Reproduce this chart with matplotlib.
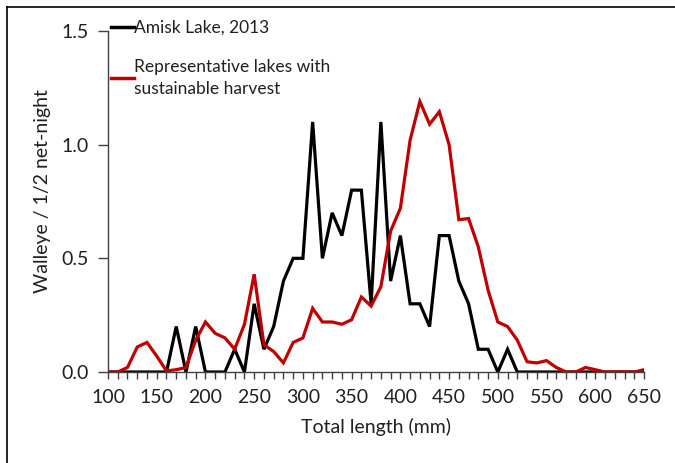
import matplotlib.pyplot as plt
import numpy as np
from matplotlib.lines import Line2D

plt.rcParams['font.family'] = ['Lato', 'DejaVu Sans']

# total length classes (mm), 10 mm bins
length = np.arange(100, 660, 10)

amisk = [0, 0, 0, 0, 0, 0, 0, 0.2, 0, 0.2, 0, 0, 0, 0.1, 0, 0.3, 0.1, 0.2, 0.4, 0.5,
         0.5, 1.1, 0.5, 0.7, 0.6, 0.8, 0.8, 0.3, 1.1, 0.4, 0.6, 0.3, 0.3, 0.2, 0.6, 0.6,
         0.4, 0.3, 0.1, 0.1, 0, 0.1, 0, 0, 0, 0, 0, 0, 0, 0, 0, 0, 0, 0, 0, 0]

representative = [0, 0, 0.02, 0.11, 0.13, 0.07, 0.005, 0.01, 0.02, 0.14, 0.22, 0.17, 0.15,
                  0.10, 0.21, 0.43, 0.12, 0.09, 0.04, 0.13, 0.15, 0.28, 0.22, 0.22, 0.21,
                  0.23, 0.33, 0.29, 0.375, 0.62, 0.72, 1.02, 1.19, 1.09, 1.145, 1.0, 0.67,
                  0.675, 0.55, 0.36, 0.22, 0.20, 0.14, 0.045, 0.04, 0.05, 0.02, 0.0, 0.0,
                  0.02, 0.01, 0, 0, 0, 0, 0.01]

labels = ['Amisk Lake, 2013', 'Representative lakes with\nsustainable harvest']

fig = plt.figure(figsize=(6.75, 4.63), dpi=100)
ax = fig.add_axes([108 / 675, 1 - 372 / 463, (644 - 108) / 675, (372 - 31) / 463])

ax.plot(length, amisk, color='black', lw=2.3, solid_joinstyle='miter')
ax.plot(length, representative, color='#C00000', lw=2.3, solid_joinstyle='miter')

ax.set_xlim(100, 650)
ax.set_ylim(0, 1.5)
ax.set_xticks(np.arange(100, 651, 50))
ax.set_xticks(np.arange(100, 651, 10), minor=True)
ax.set_yticks([0, 0.5, 1.0, 1.5])
ax.set_yticklabels(['0.0', '0.5', '1.0', '1.5'])
ax.tick_params(axis='both', direction='out', length=5, width=1, labelsize=14, colors='#404040',
               labelcolor='#202020')
ax.tick_params(axis='x', which='minor', direction='out', length=5, width=1, color='#404040')
ax.tick_params(axis='x', pad=7)
ax.tick_params(axis='y', pad=7, length=7)
for s in ['top', 'right']:
    ax.spines[s].set_visible(False)
for s in ['left', 'bottom']:
    ax.spines[s].set_color('#404040')
    ax.spines[s].set_linewidth(1)

ax.set_xlabel('Total length (mm)', fontsize=14, color='#202020', labelpad=9)
ax.set_ylabel('Walleye / 1/2 net-night', fontsize=14, color='#202020')
ax.yaxis.set_label_coords(-0.106, 0.53)

handles = [Line2D([], [], color='black', lw=2.5), Line2D([], [], color='#C00000', lw=2.5)]
leg = fig.legend(handles, labels, loc='upper left', bbox_to_anchor=(104 / 675, 1 - 13 / 463),
                 frameon=False, fontsize=12.5, handlelength=1.3, handletextpad=0.05,
                 labelspacing=1.3, borderaxespad=0, labelcolor='#202020')
for t in leg.get_texts():
    t.set_linespacing(1.5)

# outer frame (top and left edges visible in the original)
fig.add_artist(Line2D([7 / 675, 7 / 675], [0, 1 - 7 / 463], color='black', lw=1.2))
fig.add_artist(Line2D([7 / 675, 1], [1 - 7 / 463, 1 - 7 / 463], color='black', lw=1.2))

plt.savefig('out.png', dpi=100)
plt.close()
